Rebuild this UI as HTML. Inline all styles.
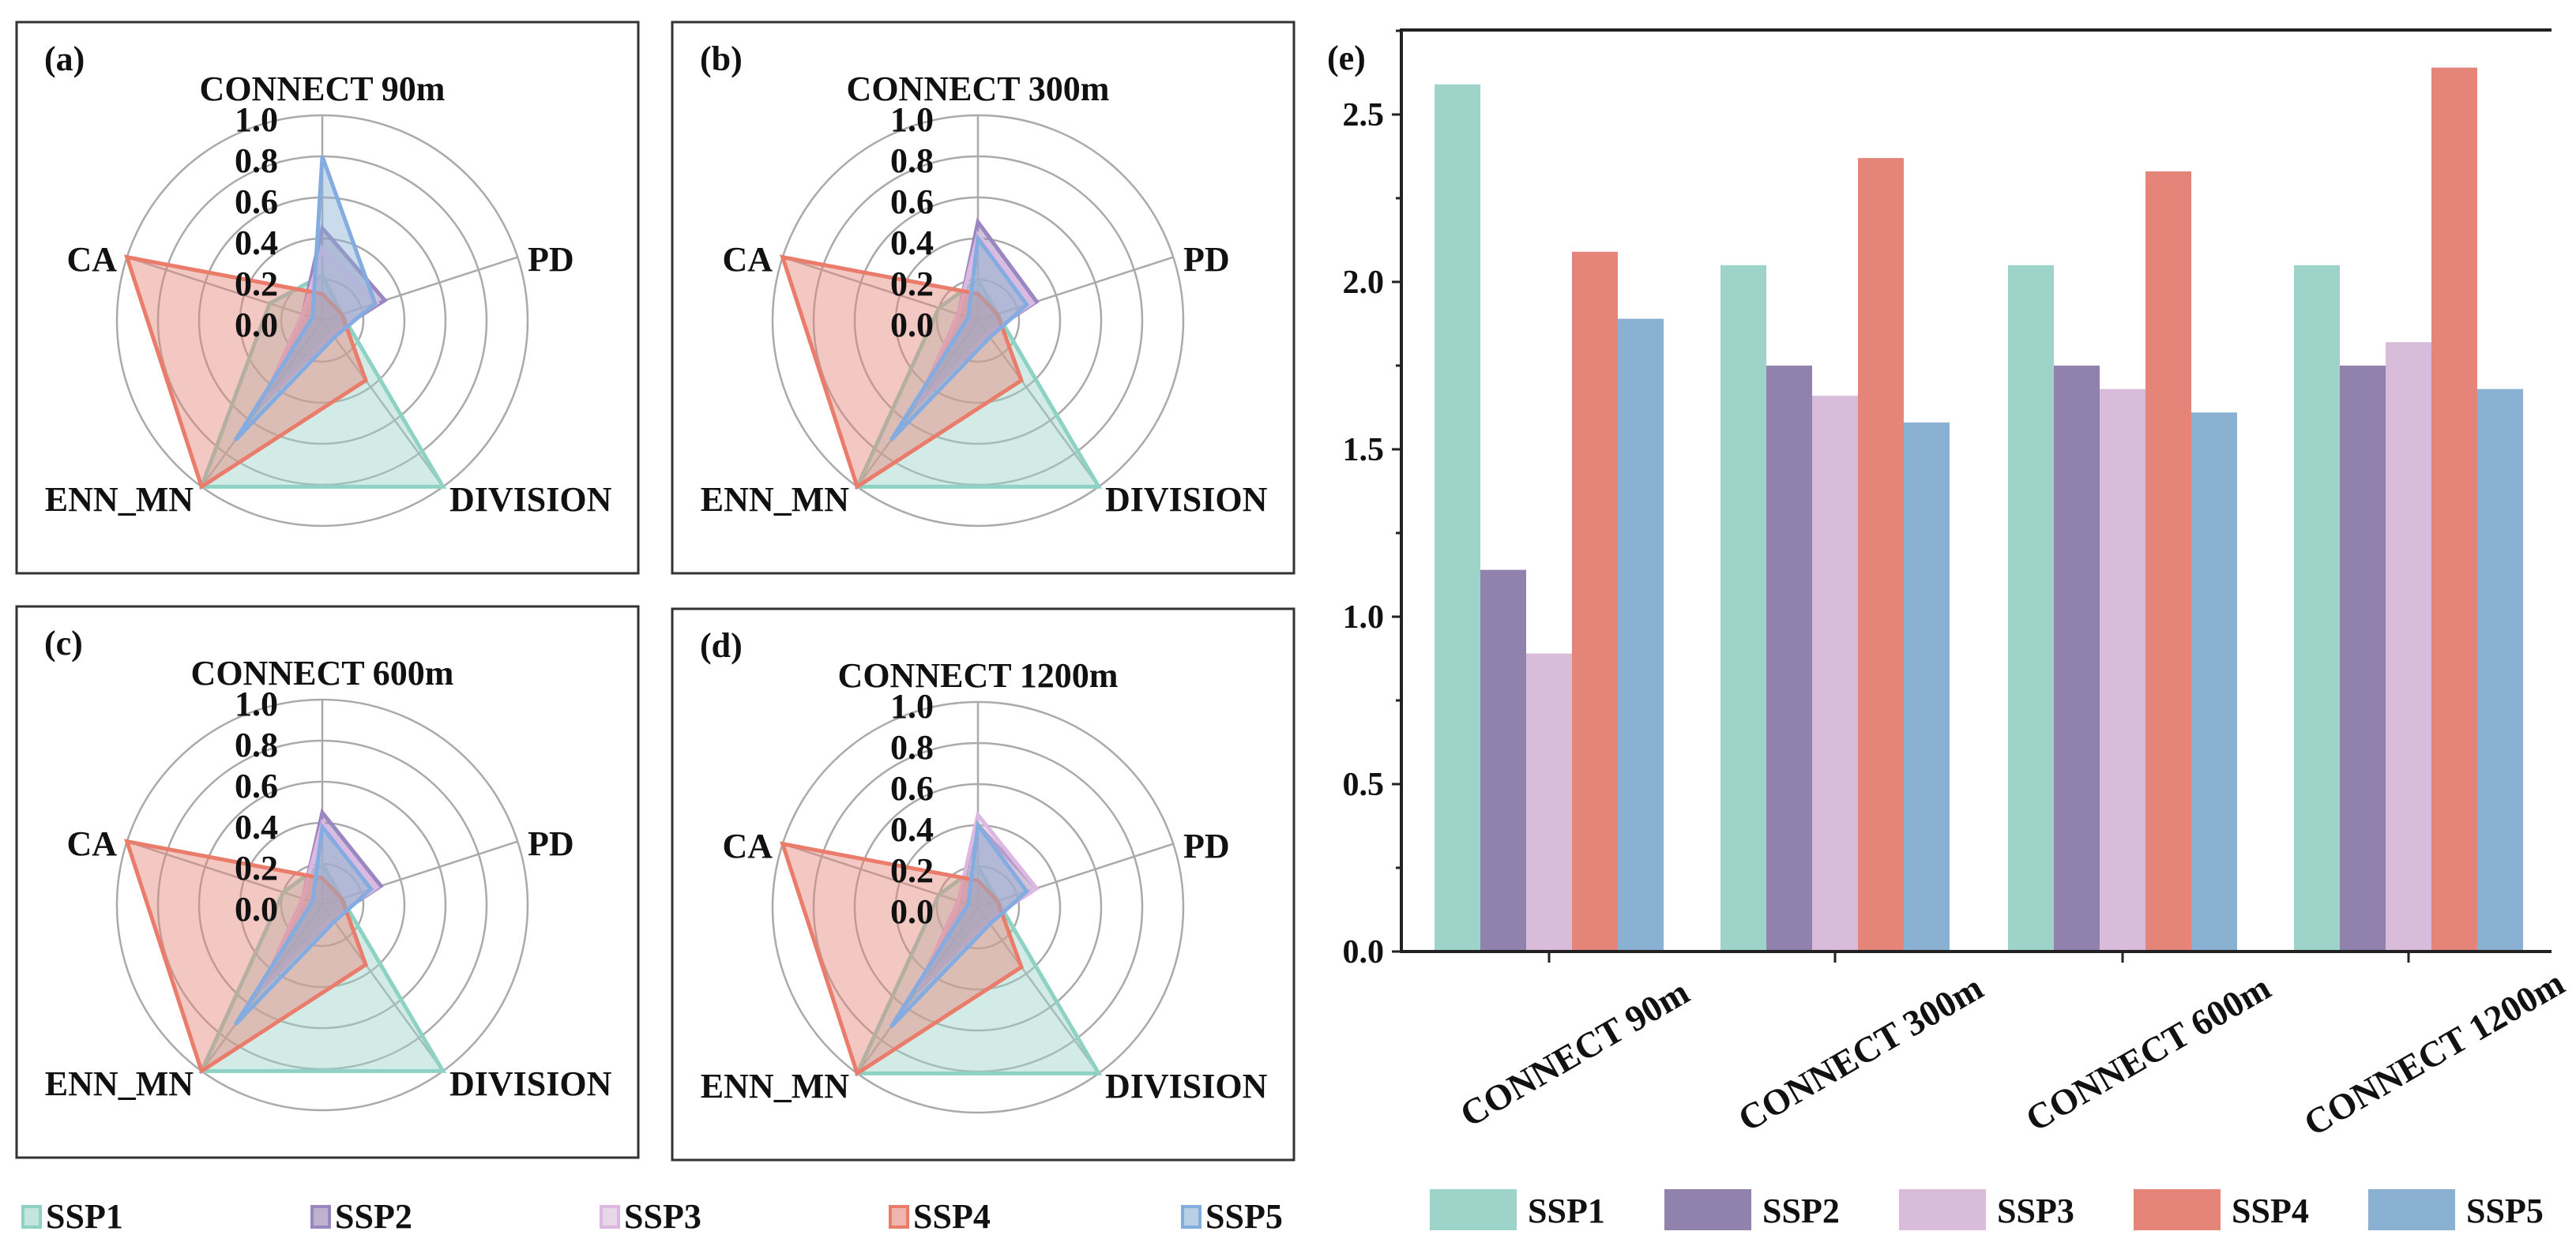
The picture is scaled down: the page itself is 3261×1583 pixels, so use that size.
<!DOCTYPE html>
<html><head><meta charset="utf-8"><style>
body{margin:0;background:#fff}
svg text{font-family:"Liberation Serif",serif;font-weight:bold;fill:#111}
</style></head><body>
<svg id="chart" width="3261" height="1578" viewBox="0 0 3261 1578" xmlns="http://www.w3.org/2000/svg"></svg>
<script>
// ---------- data ----------
const scenarios = ["SSP1","SSP2","SSP3","SSP4","SSP5"];
const colors = ["#9dd3c8","#9181ad","#d9bcd9","#e5857a","#8ab0d2"];
const strokeColors = ["#8ed2c4","#9a86c0","#dcb8e2","#ea7c6c","#84ace0"];
const radarAxes = ["CONNECT","PD","DIVISION","ENN_MN","CA"];
const radarTicks = ["0.0","0.2","0.4","0.6","0.8","1.0"];
const panelTitles = ["CONNECT 90m","CONNECT 300m","CONNECT 600m","CONNECT 1200m"];
const panelLetters = ["(a)","(b)","(c)","(d)"];
// values per panel: rows = scenarios, cols = CONNECT, PD, DIVISION, ENN_MN, CA
const radarA = [[0.22,0.1,1.0,1.0,0.27],[0.45,0.32,0.08,0.5,0.1],[0.35,0.28,0.08,0.5,0.1],[0.13,0.1,0.36,1.0,1.0],[0.8,0.27,0.1,0.72,0.05]];
const radarB = [[0.2,0.1,1.0,1.0,0.2],[0.48,0.3,0.08,0.5,0.1],[0.42,0.28,0.08,0.5,0.1],[0.13,0.1,0.36,1.0,1.0],[0.4,0.25,0.1,0.72,0.05]];
const radarC = [[0.2,0.1,1.0,1.0,0.2],[0.45,0.3,0.08,0.5,0.1],[0.4,0.28,0.08,0.5,0.1],[0.13,0.1,0.36,1.0,1.0],[0.38,0.25,0.1,0.72,0.05]];
const radarD = [[0.2,0.1,1.0,1.0,0.2],[0.4,0.3,0.08,0.5,0.1],[0.45,0.3,0.08,0.5,0.1],[0.13,0.1,0.36,1.0,1.0],[0.4,0.25,0.1,0.72,0.05]];
const radarData = [radarA,radarB,radarC,radarD];
// bar chart
const barCategories = ["CONNECT 90m","CONNECT 300m","CONNECT 600m","CONNECT 1200m"];
const ssp1 = [2.59,2.05,2.05,2.05];
const ssp2 = [1.14,1.75,1.75,1.75];
const ssp3 = [0.89,1.66,1.68,1.82];
const ssp4 = [2.09,2.37,2.33,2.64];
const ssp5 = [1.89,1.58,1.61,1.68];
const barSeries = [ssp1,ssp2,ssp3,ssp4,ssp5];
const yTicks = [0,0.5,1.0,1.5,2.0,2.5];
const yTickLabels = ["0.0","0.5","1.0","1.5","2.0","2.5"];

const NS="http://www.w3.org/2000/svg";
const svg=document.getElementById('chart');
function mk(tag,attrs,parent){const e=document.createElementNS(NS,tag);for(const k in attrs)e.setAttribute(k,attrs[k]);(parent||svg).appendChild(e);return e;}

// ---------- radar panels ----------
const boxes=[[21,28],[851,28],[21,768],[851,771]];
const R=260;
radarData.forEach((data,p)=>{
  const g=mk('g',{});
  
  
  const bx=boxes[p][0],by=boxes[p][1];
  const frame=mk('rect',{x:bx,y:by,width:787,height:698,fill:'none',stroke:'#333','stroke-width':3},g);
  
  
  const cx=bx+387,cy=by+378;
  const ang=i=>(90-72*i)*Math.PI/180;
  const pt=(i,v)=>[cx+Math.cos(ang(i))*v*R, cy-Math.sin(ang(i))*v*R];
  for(let k=1;k<=5;k++){
    const c=mk('circle',{cx:cx,cy:cy,r:R*k/5,fill:'none',stroke:'#aaa','stroke-width':2.5},g);
    
    
  }
  radarAxes.forEach((a,i)=>{
    const e=pt(i,1);
    const l=mk('line',{x1:cx,y1:cy,x2:e[0],y2:e[1],stroke:'#aaa','stroke-width':2.5},g);
    
    
  });
  data.forEach((vals,s)=>{
    const pts=vals.map((v,i)=>pt(i,v).join(',')).join(' ');
    const pg=mk('polygon',{points:pts,fill:colors[s],'fill-opacity':0.45,stroke:strokeColors[s],'stroke-width':5,'stroke-linejoin':'miter'},g);
    
    
  });
  radarTicks.forEach((t,k)=>{
    const tx=mk('text',{x:cx-56,y:cy+20-k*52,'font-size':44,'text-anchor':'end'},g);
    tx.textContent=t;
    
    
  });
  const lab=[[cx,by+99,'middle',panelTitles[p]],[cx+260,cy-63,'start','PD'],[cx+161,cy+241,'start','DIVISION'],[cx-163,cy+241,'end','ENN_MN'],[cx-260,cy-63,'end','CA']];
  lab.forEach((L,i)=>{
    const t=mk('text',{x:L[0],y:L[1],'font-size':44,'text-anchor':L[2]},g);
    t.textContent=L[3];
    
    
  });
  const pl=mk('text',{x:bx+35,y:by+61,'font-size':44},g);
  pl.textContent=panelLetters[p];
  
  
});

// left legend
scenarios.forEach((s,i)=>{
  const x=[29,395,761,1127,1497][i];
  const g=mk('g',{});
  
  
  mk('rect',{x:x,y:1528,width:22,height:26,fill:colors[i],'fill-opacity':0.6,stroke:strokeColors[i],'stroke-width':4},g);
  const t=mk('text',{x:x+29,y:1555,'font-size':44},g);
  t.textContent=s;
});

// ---------- bar chart ----------
const X0=1774,X1=3230,Y0=1205,YTOP=38,PX=424;
const yS=v=>Y0-v*PX;
const catCenters=[1961,2323,2687,3049];
const bw=58;
const bg=mk('g',{});


barSeries.forEach((ser,s)=>{
  ser.forEach((v,c)=>{
    const x=catCenters[c]-2.5*bw+s*bw;
    const r=mk('rect',{x:x,y:yS(v),width:bw,height:Y0-yS(v),fill:colors[s]},bg);
    
    
  });
});
const ax=mk('path',{d:`M${X1},${YTOP} H${X0} V${Y0} H${X1}`,fill:'none',stroke:'#222','stroke-width':4},bg);


yTicks.forEach((v,i)=>{
  mk('line',{x1:X0-12,x2:X0,y1:yS(v),y2:yS(v),stroke:'#222','stroke-width':3},bg);
  mk('line',{x1:X0-7,x2:X0,y1:yS(v+0.25),y2:yS(v+0.25),stroke:'#222','stroke-width':3},bg);
  const t=mk('text',{x:X0-22,y:yS(v)+14,'font-size':42,'text-anchor':'end'},bg);
  t.textContent=yTickLabels[i];
  
  
});
barCategories.forEach((c,i)=>{
  mk('line',{x1:catCenters[i],x2:catCenters[i],y1:Y0,y2:Y0+14,stroke:'#222','stroke-width':3},bg);
  const t=mk('text',{x:0,y:0,'font-size':46,'text-anchor':'middle',transform:`translate(${catCenters[i]+40},${Y0+142}) rotate(-30)`},bg);
  t.textContent=c;
  
  
});
const el=mk('text',{x:1680,y:88,'font-size':44},bg);
el.textContent='(e)';


scenarios.forEach((s,i)=>{
  const x=1810+i*297;
  const g=mk('g',{});
  
  
  mk('rect',{x:x,y:1506,width:110,height:52,fill:colors[i]},g);
  const t=mk('text',{x:x+124,y:1548,'font-size':44},g);
  t.textContent=s;
});
</script>
</body></html>
